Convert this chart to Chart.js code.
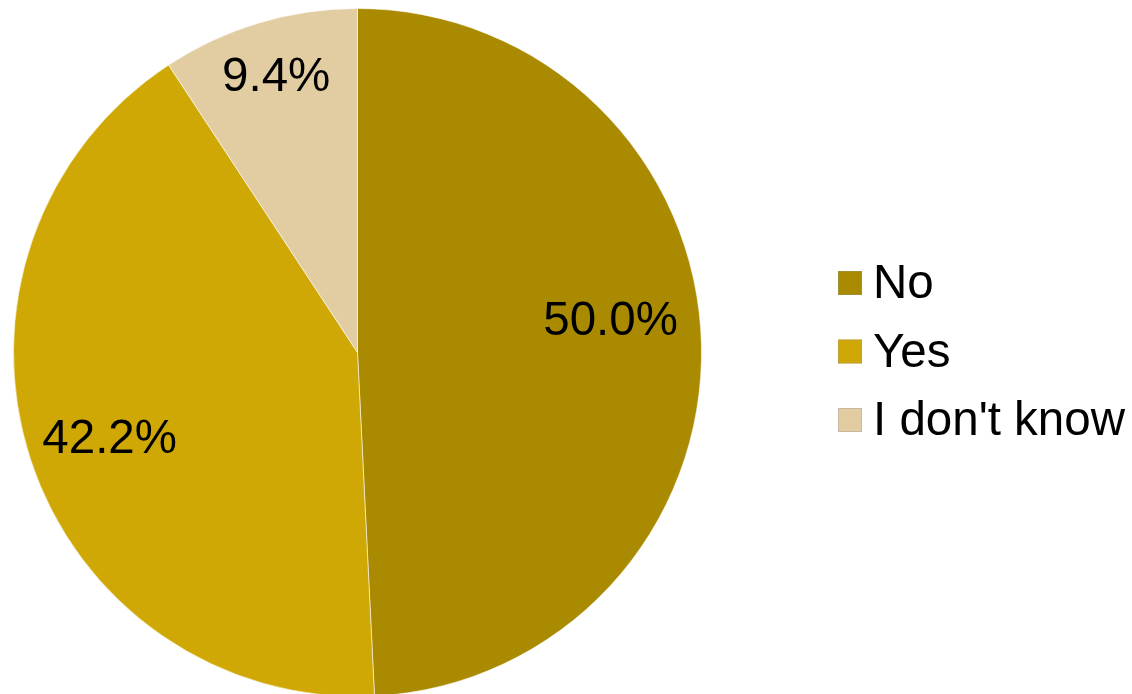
<!DOCTYPE html>
<html>
<head>
<meta charset="utf-8">
<title>Survey answers</title>
<script src="https://cdn.jsdelivr.net/npm/chart.js@4.4.1/dist/chart.umd.min.js"></script>
<style>
  html, body { margin: 0; padding: 0; background: #fff; overflow: hidden; }
  #wrap { width: 1132px; height: 697px; position: relative; }
</style>
</head>
<body>
<div id="wrap"><canvas id="pie"></canvas></div>
<script>
// Answer categories and their shares (percent of respondents)
const ANSWERS = ["No", "Yes", "I don't know"];
const SHARES = [50.0, 42.2, 9.4];
const COLORS = ["#aa8a00", "#cfa806", "#e2cda2"];

const FONT = "'Liberation Sans', Arial, sans-serif";

// label placement per slice: fraction of radius, angle nudge in degrees
const LABEL_POS = [
  { frac: 0.7425, nudge: -6.3 },
  { frac: 0.76, nudge: -0.5 },
  { frac: 0.842, nudge: 0.35 },
];

const sliceLabels = {
  id: "sliceLabels",
  afterDatasetsDraw(chart) {
    const { ctx } = chart;
    const meta = chart.getDatasetMeta(0);
    ctx.save();
    ctx.font = `47.5px ${FONT}`;
    ctx.fillStyle = "#000";
    ctx.textAlign = "center";
    ctx.textBaseline = "alphabetic";
    meta.data.forEach((arc, i) => {
      const p = arc.getProps(["x", "y", "startAngle", "endAngle", "outerRadius"], true);
      const mid = (p.startAngle + p.endAngle) / 2 + (LABEL_POS[i].nudge * Math.PI) / 180;
      const r = p.outerRadius * LABEL_POS[i].frac;
      const x = p.x + Math.cos(mid) * r;
      const y = p.y + Math.sin(mid) * r;
      ctx.fillText(`${SHARES[i].toFixed(1)}%`, x, y + 17);
    });
    ctx.restore();
  },
};

// simple legend on the right, squares + labels
const sideLegend = {
  id: "sideLegend",
  afterDraw(chart) {
    const { ctx } = chart;
    ctx.save();
    ctx.font = `47.5px ${FONT}`;
    ctx.textBaseline = "alphabetic";
    ctx.textAlign = "left";
    ANSWERS.forEach((name, i) => {
      const base = 298 + i * 68.5;
      ctx.fillStyle = COLORS[i];
      ctx.fillRect(838, base - 27, 24, 24);
      ctx.strokeStyle = "rgba(150,150,150,0.35)";
      ctx.lineWidth = 1;
      ctx.strokeRect(838.5, base - 26.5, 23, 23);
      ctx.fillStyle = "#000";
      ctx.fillText(name, 873, base);
    });
    ctx.restore();
  },
};

new Chart(document.getElementById("pie"), {
  type: "pie",
  data: {
    labels: ANSWERS,
    datasets: [{
      data: SHARES,
      backgroundColor: COLORS,
      borderColor: "rgba(255,255,255,0.55)",
      borderWidth: 1,
    }],
  },
  options: {
    responsive: true,
    maintainAspectRatio: false,
    animation: false,
    layout: { padding: { top: 8, bottom: 0, left: 13, right: 430 } },
    plugins: {
      legend: { display: false },
      tooltip: { enabled: false },
    },
  },
  plugins: [sliceLabels, sideLegend],
});
</script>
</body>
</html>
